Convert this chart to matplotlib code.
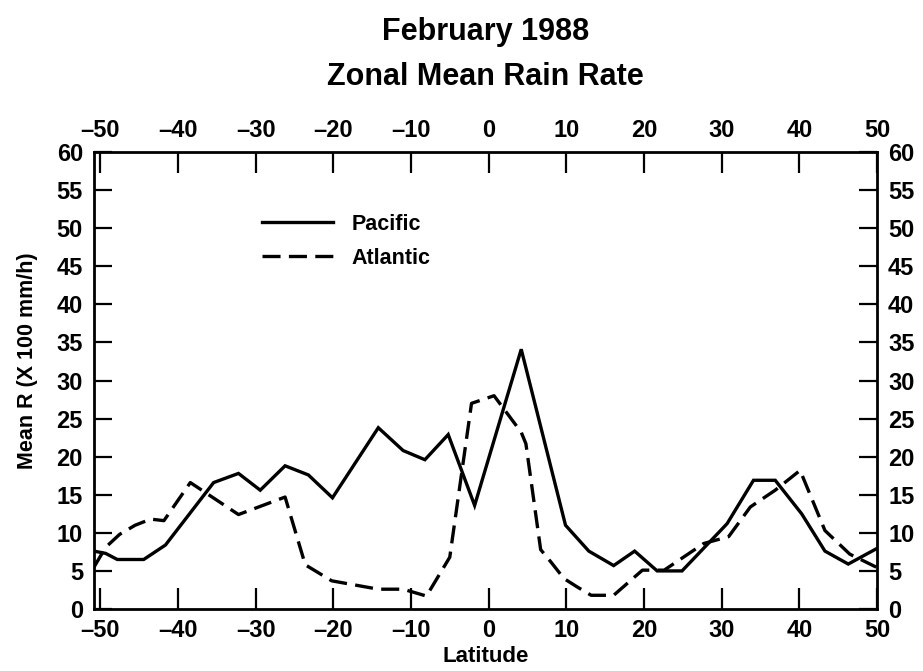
import matplotlib
matplotlib.use("Agg")
import matplotlib.pyplot as plt

plt.rcParams['font.family'] = ['Liberation Sans', 'DejaVu Sans']
plt.rcParams['font.weight'] = 'bold'
plt.rcParams['lines.scale_dashes'] = False
plt.rcParams['axes.unicode_minus'] = True

# Pacific (solid)
pac_lat = [-50.8, -49.3, -47.8, -44.4, -41.6, -35.4, -32.2, -29.4, -26.2, -23.2,
           -20.1, -14.2, -11.0, -8.2, -5.2, -1.8, 4.2, 9.9, 12.9, 16.1, 18.8,
           21.7, 24.9, 30.7, 34.1, 36.9, 40.3, 43.3, 46.3, 49.9]
pac_rate = [7.6, 7.3, 6.5, 6.5, 8.4, 16.6, 17.8, 15.6, 18.8, 17.6,
            14.6, 23.8, 20.8, 19.6, 22.9, 13.6, 34.1, 11.0, 7.6, 5.7, 7.6,
            5.0, 5.0, 11.2, 16.9, 16.9, 12.5, 7.6, 5.9, 7.9]

# Atlantic (dashed)
atl_lat = [-50.8, -49.3, -47.5, -45.5, -43.5, -41.8, -38.4, -32.2, -26.2, -23.6,
           -20.2, -14.2, -11.0, -8.0, -5.0, -2.2, 0.7, 4.2, 4.8, 6.7, 8.0,
           9.7, 11.4, 13.2, 16.1, 19.8, 22.6, 27.7, 30.9, 33.7, 36.9, 40.1,
           43.3, 46.5, 49.9]
atl_rate = [5.5, 8.1, 9.8, 11.0, 11.8, 11.6, 16.6, 12.4, 14.7, 5.8,
            3.7, 2.6, 2.6, 1.7, 6.8, 27.0, 28.0, 23.2, 21.7, 7.8, 6.2,
            4.0, 2.9, 1.8, 1.8, 5.1, 5.1, 8.6, 9.5, 13.4, 15.6, 18.2,
            10.3, 7.2, 5.5]

x_ticks = [-50, -40, -30, -20, -10, 0, 10, 20, 30, 40, 50]
y_ticks = [0, 5, 10, 15, 20, 25, 30, 35, 40, 45, 50, 55, 60]

W, H = 923, 671
fig = plt.figure(figsize=(W / 100, H / 100), dpi=100)
L, R, T, B = 94, 877, 152, 609
ax = fig.add_axes([L / W, 1 - B / H, (R - L) / W, (B - T) / H])

ax.plot(pac_lat, pac_rate, color='black', lw=2.4, label='Pacific',
        solid_joinstyle='miter')
ax.plot(atl_lat, atl_rate, color='black', lw=2.4, dashes=(13, 6),
        label='Atlantic')

ax.set_xlim(-50.8, 50)
ax.set_ylim(0, 60)
ax.set_xticks(x_ticks)
ax.set_yticks(y_ticks)
ax.set_xticklabels([f"{v:d}".replace('-', '\u2013') for v in x_ticks])
for s in ax.spines.values():
    s.set_linewidth(2.0)

ax.tick_params(axis='x', which='both', direction='in', length=15, width=1.6,
               top=True, labeltop=True, labelsize=17, pad=7)
ax.tick_params(axis='y', which='both', direction='in', length=13, width=1.6,
               right=True, labelright=True, labelsize=17, pad=8)
for lab in ax.get_xticklabels() + ax.get_yticklabels():
    lab.set_fontweight('bold')

ax.set_xlabel('Latitude', fontsize=16, fontweight='bold', labelpad=3)
ax.set_ylabel('Mean R (X 100 mm/h)', fontsize=15.5, fontweight='bold')
ax.yaxis.set_label_coords((38 - L) / (R - L), (B - 361) / (B - T))

leg = ax.legend(loc='upper left', bbox_to_anchor=((262 - L) / (R - L), (B - 214) / (B - T)),
                frameon=False, prop={'size': 15.5, 'weight': 'bold'},
                handlelength=3.3, handletextpad=0.85,
                borderpad=0, borderaxespad=0, labelspacing=0.6)

fig.text((L + R) / 2 / W, 1 - 32 / H, 'February 1988', ha='center', va='center',
         fontsize=22, fontweight='bold')
fig.text((L + R) / 2 / W, 1 - 77 / H, 'Zonal Mean Rain Rate', ha='center', va='center',
         fontsize=22, fontweight='bold')

fig.savefig('out.png', dpi=100)
